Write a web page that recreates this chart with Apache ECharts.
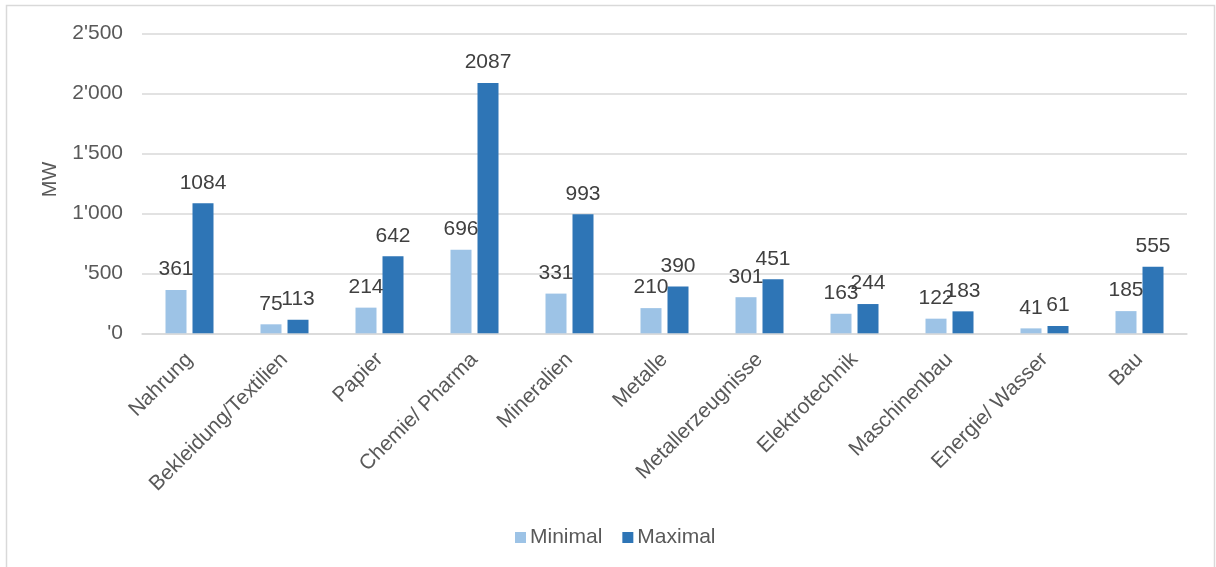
<!DOCTYPE html>
<html>
<head>
<meta charset="utf-8">
<title>Leistung nach Branche</title>
<script src="https://cdn.jsdelivr.net/npm/echarts@6/dist/echarts.min.js"></script>
<style>
  html, body { margin: 0; padding: 0; background: #ffffff; }
  #chart { width: 1216px; height: 567px; }
</style>
</head>
<body>
<div id="chart"></div>
<script>
// Branchen (x-axis categories)
const categories = [
  'Nahrung', 'Bekleidung/Textilien', 'Papier', 'Chemie/ Pharma', 'Mineralien',
  'Metalle', 'Metallerzeugnisse', 'Elektrotechnik', 'Maschinenbau',
  'Energie/ Wasser', 'Bau'
];

// Leistung in MW
const minimalValues = [361, 75, 214, 696, 331, 210, 301, 163, 122, 41, 185];
const maximalValues = [1084, 113, 642, 2087, 993, 390, 451, 244, 183, 61, 555];

// Y-axis tick labels, in tick order from 0 upward
const yTickLabels = ["'0", "'500", "1'000", "1'500", "2'000", "2'500"];

const FONT = '"Liberation Sans", Arial, sans-serif';
const AXIS_TEXT = '#595959';
const LABEL_TEXT = '#404040';
const GRID_LINE = '#d9d9d9';

const chart = echarts.init(document.getElementById('chart'), null, { renderer: 'canvas' });

const valueLabel = {
  show: true,
  position: 'top',
  distance: 10,
  color: LABEL_TEXT,
  fontFamily: FONT,
  fontSize: 21
};

chart.setOption({
  animation: false,
  backgroundColor: '#ffffff',
  textStyle: { fontFamily: FONT },
  graphic: [{
    type: 'rect',
    silent: true,
    shape: { x: 6.5, y: 5.5, width: 1208, height: 620 },
    style: { fill: 'none', stroke: GRID_LINE, lineWidth: 1.5 }
  }],
  grid: { left: 142, right: 29, top: 33.5, bottom: 233.7, containLabel: false },
  legend: {
    bottom: 14,
    left: 510,
    itemWidth: 11,
    itemHeight: 11,
    itemGap: 20,
    icon: 'rect',
    textStyle: { color: AXIS_TEXT, fontSize: 21, fontFamily: FONT, padding: [0, 0, 0, -1] },
    data: ['Minimal', 'Maximal']
  },
  xAxis: {
    type: 'category',
    data: categories,
    axisLine: { show: true, lineStyle: { color: GRID_LINE, width: 1.5 } },
    axisTick: { show: false },
    axisLabel: {
      interval: 0,
      rotate: 45,
      margin: 23,
      color: AXIS_TEXT,
      fontSize: 21,
      fontFamily: FONT
    }
  },
  yAxis: {
    type: 'value',
    min: 0,
    max: 2500,
    interval: 500,
    name: 'MW',
    nameLocation: 'middle',
    nameRotate: 90,
    nameGap: 82,
    nameTextStyle: { color: AXIS_TEXT, fontSize: 20, fontFamily: FONT, padding: [0, 0, 0, 8] },
    axisLine: { show: false },
    axisTick: { show: false },
    splitLine: { lineStyle: { color: GRID_LINE, width: 1.5 } },
    axisLabel: {
      margin: 19,
      color: AXIS_TEXT,
      fontSize: 21,
      fontFamily: FONT,
      formatter: (v) => yTickLabels[Math.round(v / 500)]
    }
  },
  series: [
    {
      name: 'Minimal',
      type: 'bar',
      data: minimalValues,
      barWidth: 21,
      barGap: '28.6%',
      itemStyle: { color: '#9DC3E6' },
      label: valueLabel
    },
    {
      name: 'Maximal',
      type: 'bar',
      data: maximalValues,
      barWidth: 21,
      barGap: '28.6%',
      itemStyle: { color: '#2E75B6' },
      label: valueLabel
    }
  ]
});
</script>
</body>
</html>
